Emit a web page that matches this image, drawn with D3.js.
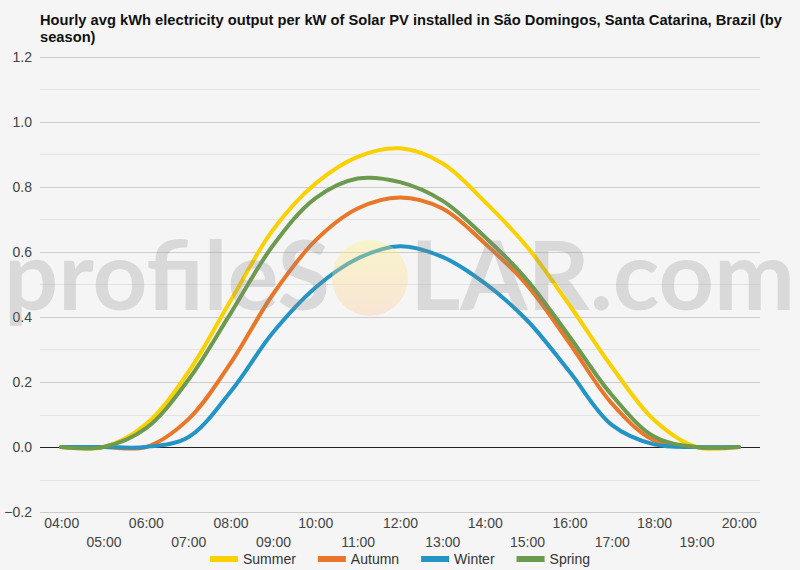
<!DOCTYPE html>
<html>
<head>
<meta charset="utf-8">
<script src="https://cdn.jsdelivr.net/npm/d3@7"></script>
<style>
  body { margin: 0; background: #f5f5f5; }
  svg { display: block; font-family: "Liberation Sans", Arial, sans-serif; }
</style>
</head>
<body>
<script>
// hourly categories
var hours = ["04:00","05:00","06:00","07:00","08:00","09:00","10:00","11:00","12:00",
             "13:00","14:00","15:00","16:00","17:00","18:00","19:00","20:00"];

// kWh per kW
var summer = [0, 0, 0.07, 0.23, 0.45, 0.668, 0.81, 0.893, 0.919, 0.873, 0.755, 0.616, 0.437, 0.247, 0.083, 0, 0];
var autumn = [0, 0, 0, 0.085, 0.258, 0.47, 0.635, 0.734, 0.768, 0.734, 0.627, 0.498, 0.32, 0.134, 0.02, 0, 0];
var winter = [0, 0, 0, 0.03, 0.17, 0.352, 0.49, 0.58, 0.618, 0.585, 0.504, 0.39, 0.232, 0.068, 0.008, 0, 0];
var spring = [0, 0, 0.057, 0.206, 0.411, 0.62, 0.765, 0.826, 0.815, 0.758, 0.647, 0.514, 0.34, 0.16, 0.032, 0, 0];

var seasonNames = ["Summer", "Autumn", "Winter", "Spring"];
var seasonColors = ["#f9d000", "#e8772a", "#2394c4", "#6c9a4f"];
var yTicks = [-0.2, 0, 0.2, 0.4, 0.6, 0.8, 1.0, 1.2];

var seriesValues = [summer, autumn, winter, spring];

var W = 800, H = 570;
var svg = d3.select("body").append("svg").attr("width", W).attr("height", H);

svg.append("rect").attr("width", W).attr("height", H).attr("fill", "#f5f5f5");

// title
var title = svg.append("text")
	.attr("font-size", "14.7px").attr("font-weight", "bold").attr("fill", "#111");
title.append("tspan").attr("x", 40).attr("y", 25)
	.text("Hourly avg kWh electricity output per kW of Solar PV installed in São Domingos, Santa Catarina, Brazil (by");
title.append("tspan").attr("x", 40).attr("y", 42).text("season)");

var plotLeft = 40, plotRight = 760, plotTop = 57, plotBottom = 512;

var x = d3.scalePoint().domain(hours).range([plotLeft, plotRight]).padding(0.5);
var y = d3.scaleLinear().domain([-0.2, 1.2]).range([plotBottom, plotTop]);

// minor gridlines
var minor = d3.range(-0.1, 1.2, 0.2);
svg.append("g").selectAll("line").data(minor).enter().append("line")
	.attr("x1", plotLeft).attr("x2", plotRight)
	.attr("y1", function(d){ return Math.round(y(d)) + 0.5; })
	.attr("y2", function(d){ return Math.round(y(d)) + 0.5; })
	.attr("stroke", "#e3e3e3").attr("stroke-width", 1);

// y axis (major gridlines + labels)
var yAxis = d3.axisLeft(y).tickValues(yTicks).tickSize(-(plotRight - plotLeft))
	.tickFormat(d3.format(".1f"));
var gy = svg.append("g").attr("transform", "translate(" + plotLeft + ",0)").call(yAxis);
gy.select(".domain").remove();
gy.selectAll(".tick line")
	.attr("stroke", function(d){ return d === 0 ? "#222" : "#cccccc"; })
	.attr("stroke-width", 1);
gy.selectAll(".tick text").attr("x", -8).attr("font-size", "14px")
	.attr("fill", "#444").attr("font-family", "Liberation Sans, Arial, sans-serif");

// x axis labels, staggered on two rows
var xAxis = d3.axisBottom(x).tickSize(0);
var gx = svg.append("g").attr("transform", "translate(0," + plotBottom + ")").call(xAxis);
gx.select(".domain").remove();
gx.selectAll(".tick text")
	.attr("y", function(d, i){ return i % 2 === 0 ? 6 : 25; })
	.attr("font-size", "14px").attr("fill", "#444")
	.attr("font-family", "Liberation Sans, Arial, sans-serif");

// lines
var line = d3.line()
	.x(function(d, i){ return x(hours[i]); })
	.y(function(d){ return y(d); })
	.curve(d3.curveCatmullRom.alpha(0.5));

svg.append("g").selectAll("path").data(seriesValues).enter().append("path")
	.attr("d", line)
	.attr("fill", "none")
	.attr("stroke", function(d, i){ return seasonColors[i]; })
	.attr("stroke-width", 4)
	.attr("stroke-linecap", "round")
	.attr("stroke-linejoin", "round");

// watermark (sits over the lines, faint)
var defs = svg.append("defs");
var grad = defs.append("linearGradient").attr("id", "sun").attr("x1", 0).attr("y1", 0).attr("x2", 0).attr("y2", 1);
grad.append("stop").attr("offset", "0%").attr("stop-color", "#fff27a");
grad.append("stop").attr("offset", "100%").attr("stop-color", "#ffc89a");

var wm = svg.append("g");
wm.append("text").attr("x", 330).attr("y", 310).attr("text-anchor", "end")
	.attr("font-family", "Lato, 'Open Sans', sans-serif").attr("font-weight", "bold")
	.attr("font-size", "96px").attr("fill", "#888").attr("fill-opacity", 0.25)
	.attr("textLength", 326).attr("lengthAdjust", "spacingAndGlyphs")
	.text("profileS");
wm.append("circle").attr("cx", 370).attr("cy", 278).attr("r", 38)
	.attr("fill", "url(#sun)").attr("opacity", 0.35);
wm.append("text").attr("x", 410).attr("y", 310)
	.attr("font-family", "Lato, 'Open Sans', sans-serif").attr("font-weight", "bold")
	.attr("font-size", "96px").attr("fill", "#888").attr("fill-opacity", 0.25)
	.attr("textLength", 385).attr("lengthAdjust", "spacingAndGlyphs")
	.text("LAR.com");

// legend
var legend = svg.append("g");
var items = legend.selectAll("g").data(seasonNames).enter().append("g");
items.append("rect").attr("width", 28).attr("height", 6).attr("y", -3)
	.attr("fill", function(d, i){ return seasonColors[i]; });
items.append("text").attr("x", 33).attr("dy", "0.35em")
	.attr("font-size", "14px").attr("fill", "#333").text(function(d){ return d; });

var widths = [];
items.each(function(){ widths.push(33 + d3.select(this).select("text").node().getComputedTextLength()); });
var gap = 22;
var total = d3.sum(widths) + gap * (widths.length - 1);
var pos = (W - total) / 2;
items.attr("transform", function(d, i){
	var t = "translate(" + pos + ",559)";
	pos += widths[i] + gap;
	return t;
});
</script>
</body>
</html>
